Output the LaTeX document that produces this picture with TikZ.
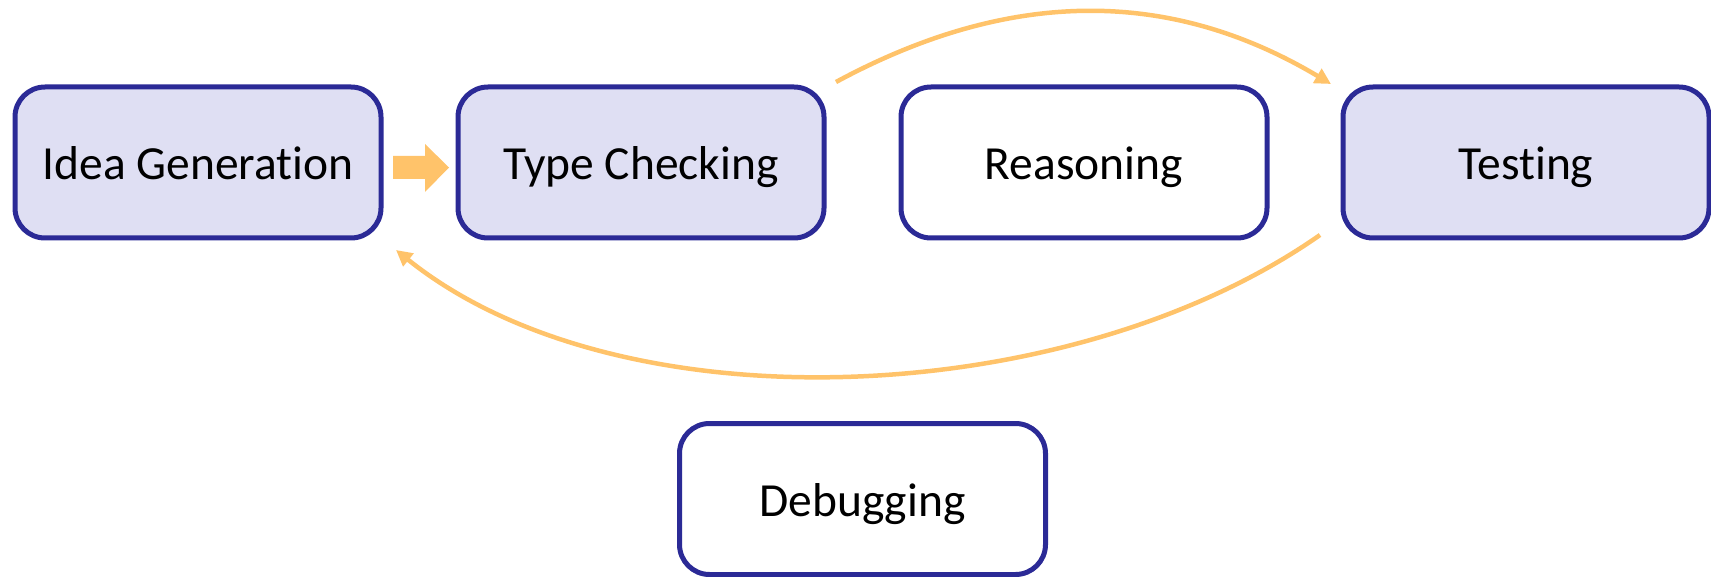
\documentclass[tikz,border=0pt]{standalone}
\usepackage{fontspec}
\setmainfont[Ligatures={NoCommon,NoContextual}]{Carlito}
\usetikzlibrary{arrows.meta}
\definecolor{boxline}{HTML}{2B2A96}
\definecolor{boxfill}{HTML}{DFDFF3}
\definecolor{flow}{HTML}{FFC36A}
\tikzset{
  stage/.style={draw=boxline, line width=5pt, rounded corners=30pt,
    minimum width=366pt, minimum height=151pt, inner sep=0pt,
    text height=35pt, text depth=0pt,
    font=\fontsize{47.5}{52}\selectfont, text=black},
  active/.style={stage, fill=boxfill},
  idle/.style={stage, fill=white},
  loop/.style={draw=flow, line width=4.5pt,
    -{Triangle[length=16pt,width=16pt]}},
}
\begin{document}
\begin{tikzpicture}[x=1pt,y=-1pt]
\useasboundingbox (0,0) rectangle (1711,577);

\node[active] (ig) at (198,162.5) {Idea Generation};
\node[active] (tc) at (641,162.5) {Type Checking};
\node[idle]   (re) at (1084,162.5) {Reasoning};
\node[active] (te) at (1526,162.5) {Testing};
\node[idle]   (db) at (862.5,499) {Debugging};

% block arrow between the first two stages
\fill[flow] (393,156) -- (425,156) -- (425,144) -- (449,167.5)
  -- (425,192) -- (425,179) -- (393,179) -- cycle;

% loose ends of the curved connectors
\coordinate (tcout) at (836,82);
\coordinate (tein)  at (1331,84);
\coordinate (teout) at (1320,235);
\coordinate (igin)  at (396,250);

\draw[loop] (tcout) .. controls (1010,-12) and (1170,-12) .. (tein);
\draw[loop] (teout) .. controls (1070,410) and (620,430) .. (igin);
\end{tikzpicture}
\end{document}
